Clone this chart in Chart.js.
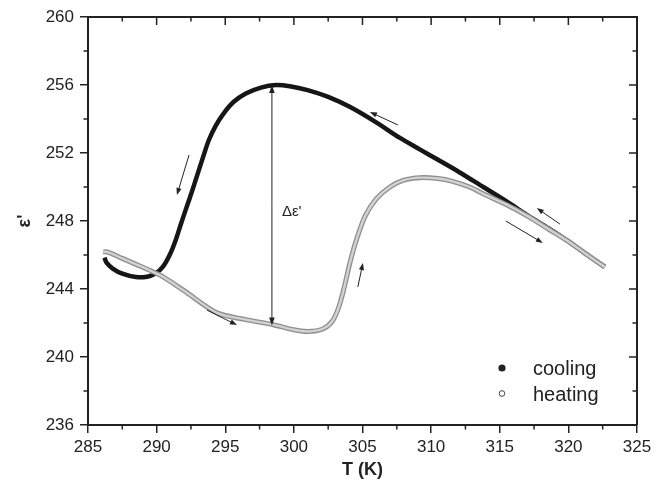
<!DOCTYPE html>
<html>
<head>
<meta charset="utf-8">
<script src="https://cdn.jsdelivr.net/npm/chart.js@4.4.0/dist/chart.umd.min.js"></script>
<style>
  html, body { margin: 0; padding: 0; background: #fff; }
  #wrap { width: 667px; height: 495px; }
</style>
</head>
<body>
<div id="wrap"><canvas id="chart" width="667" height="495"></canvas></div>
<script>
// cooling run (from high T to low T)
const coolT = [322.65, 321.3, 320.0, 318.6, 317.0, 315.5, 313.8, 312.0, 310.5, 309.2, 307.7, 306.0,
               304.1, 302.5, 301.0, 299.7, 298.7, 297.6, 296.5, 295.6, 294.9, 294.3, 293.8, 293.4,
               293.0, 292.6, 292.2, 291.8, 291.4, 290.95, 290.45, 289.9, 289.3, 288.5, 287.5, 286.8,
               286.35, 286.2];
const coolE = [245.3, 246.05, 246.8, 247.55, 248.35, 249.15, 250.0, 250.9, 251.6, 252.2, 252.9, 253.8,
               254.7, 255.3, 255.7, 255.93, 256.0, 255.85, 255.5, 255.0, 254.35, 253.6, 252.75, 251.8,
               250.8, 249.8, 248.85, 247.9, 246.9, 246.0, 245.3, 244.9, 244.72, 244.7, 244.9, 245.2,
               245.55, 245.85];

// heating run (from low T to high T)
const heatT = [286.1, 286.5, 287.5, 288.5, 289.5, 290.5, 292.0, 294.4, 296.5, 298.5, 300.0, 301.0,
               302.1, 302.8, 303.3, 303.7, 304.1, 304.6, 305.2, 306.0, 307.0, 308.0, 309.2, 310.5,
               311.5, 312.8, 313.8, 315.0, 316.0, 317.0, 318.6, 320.0, 321.3, 322.65];
const heatE = [246.2, 246.15, 245.8, 245.45, 245.1, 244.7, 243.9, 242.6, 242.2, 241.9, 241.6, 241.5,
               241.65, 242.1, 243.0, 244.2, 245.6, 247.0, 248.3, 249.3, 250.0, 250.4, 250.55, 250.5,
               250.35, 250.0, 249.6, 249.15, 248.75, 248.3, 247.5, 246.8, 246.05, 245.3];

const xMinor = [287.5, 292.5, 297.5, 302.5, 307.5, 312.5, 317.5, 322.5];
const yMinor = [238, 242, 246, 250, 254, 258];
const xMajor = [285, 290, 295, 300, 305, 310, 315, 320, 325];
const yMajor = [236, 240, 244, 248, 252, 256, 260];

// direction arrows [tailT, tailE, headT, headE]
const arrows = [
  [307.58, 253.65, 305.54, 254.41],
  [292.36, 251.88, 291.48, 249.53],
  [293.67, 242.76, 295.85, 241.88],
  [304.66, 244.12, 305.03, 245.53],
  [319.38, 247.82, 317.70, 248.76],
  [315.44, 248.00, 318.14, 246.71]
];
// Δε' marker: T, top, bottom
const deltaT = 298.4, deltaTop = 256.0, deltaBottom = 241.85;

const toPts = (xs, ys) => xs.map((x, i) => ({ x: x, y: ys[i] }));
const INK = '#222';

function drawArrow(ctx, x1, y1, x2, y2, head, half) {
  const a = Math.atan2(y2 - y1, x2 - x1);
  const c = Math.cos(a), s = Math.sin(a);
  ctx.beginPath();
  ctx.moveTo(x1, y1);
  ctx.lineTo(x2 - c * head * 0.8, y2 - s * head * 0.8);
  ctx.stroke();
  ctx.beginPath();
  ctx.moveTo(x2, y2);
  ctx.lineTo(x2 - head * c + half * s, y2 - head * s - half * c);
  ctx.lineTo(x2 - head * c - half * s, y2 - head * s + half * c);
  ctx.closePath();
  ctx.fill();
}

// frame, minor ticks, arrows and legend
const decorPlugin = {
  id: 'decor',
  afterDatasetsDraw(chart) {
    const { ctx, chartArea: a, scales: { x, y } } = chart;
    ctx.save();
    ctx.strokeStyle = INK;
    ctx.fillStyle = INK;

    // top and right axis lines
    ctx.lineWidth = 2;
    ctx.beginPath();
    ctx.moveTo(a.left, a.top); ctx.lineTo(a.right, a.top); ctx.lineTo(a.right, a.bottom);
    ctx.stroke();

    ctx.lineWidth = 1.5;
    ctx.beginPath();
    // minor ticks, outward on bottom/left, inward on top/right
    xMinor.forEach(v => {
      const px = x.getPixelForValue(v);
      ctx.moveTo(px, a.bottom); ctx.lineTo(px, a.bottom + 4.5);
      ctx.moveTo(px, a.top); ctx.lineTo(px, a.top + 4.5);
    });
    yMinor.forEach(v => {
      const py = y.getPixelForValue(v);
      ctx.moveTo(a.left, py); ctx.lineTo(a.left - 4.5, py);
      ctx.moveTo(a.right, py); ctx.lineTo(a.right - 4.5, py);
    });
    // mirrored major ticks, inward
    xMajor.forEach(v => {
      const px = x.getPixelForValue(v);
      ctx.moveTo(px, a.top); ctx.lineTo(px, a.top + 8);
    });
    yMajor.forEach(v => {
      const py = y.getPixelForValue(v);
      ctx.moveTo(a.right, py); ctx.lineTo(a.right - 8, py);
    });
    ctx.stroke();

    // direction arrows
    ctx.lineWidth = 1;
    arrows.forEach(r => {
      drawArrow(ctx, x.getPixelForValue(r[0]), y.getPixelForValue(r[1]),
                x.getPixelForValue(r[2]), y.getPixelForValue(r[3]), 7, 2.6);
    });

    // Δε' double arrow
    const dx = x.getPixelForValue(deltaT);
    const dTop = y.getPixelForValue(deltaTop), dBot = y.getPixelForValue(deltaBottom);
    const mid = (dTop + dBot) / 2;
    drawArrow(ctx, dx, mid, dx, dTop, 8, 2.8);
    drawArrow(ctx, dx, mid, dx, dBot, 8, 2.8);
    ctx.font = '15px "Liberation Sans", Arial, sans-serif';
    ctx.textAlign = 'left';
    ctx.textBaseline = 'alphabetic';
    ctx.fillText('\u0394\u03b5\'', dx + 10, mid + 11);

    // legend
    ctx.font = '20px "Liberation Sans", Arial, sans-serif';
    ctx.fillStyle = INK;
    ctx.beginPath();
    ctx.arc(502, 368, 3.6, 0, Math.PI * 2);
    ctx.fill();
    ctx.fillText('cooling', 533, 375);
    ctx.beginPath();
    ctx.lineWidth = 1;
    ctx.strokeStyle = '#444';
    ctx.arc(502, 393.5, 2.8, 0, Math.PI * 2);
    ctx.stroke();
    ctx.fillText('heating', 533, 401);
    ctx.restore();
  }
};

new Chart(document.getElementById('chart'), {
  type: 'scatter',
  data: {
    datasets: [
      {
        label: 'heating',
        data: toPts(heatT, heatE),
        showLine: true,
        borderColor: '#d2d2d2',
        borderWidth: 2.4,
        pointRadius: 0,
        tension: 0.3,
        order: 0
      },
      {
        label: 'heating edge',
        data: toPts(heatT, heatE),
        showLine: true,
        borderColor: '#8e8e8e',
        borderWidth: 5,
        pointRadius: 0,
        tension: 0.3,
        order: 1
      },
      {
        label: 'cooling',
        data: toPts(coolT, coolE),
        showLine: true,
        borderColor: '#161616',
        borderWidth: 4.5,
        pointRadius: 0,
        tension: 0.3,
        order: 2
      }
    ]
  },
  options: {
    responsive: false,
    animation: false,
    devicePixelRatio: 1,
    layout: { padding: { left: 0, right: 30, top: 17, bottom: 0 } },
    plugins: {
      legend: { display: false },
      tooltip: { enabled: false }
    },
    scales: {
      x: {
        type: 'linear',
        min: 285,
        max: 325,
        afterFit: s => { s.height = 70; },
        ticks: {
          stepSize: 5,
          padding: 4,
          color: INK,
          font: { family: '"Liberation Sans", Arial, sans-serif', size: 17 }
        },
        grid: { drawOnChartArea: false, tickLength: 8, color: INK, lineWidth: 1.5 },
        border: { color: INK, width: 2 },
        title: {
          display: true,
          text: 'T (K)',
          color: INK,
          padding: { top: 0, bottom: 14 },
          font: { family: '"Liberation Sans", Arial, sans-serif', size: 18, weight: 'bold' }
        }
      },
      y: {
        type: 'linear',
        min: 236,
        max: 260,
        afterFit: s => { s.width = 88; },
        ticks: {
          stepSize: 4,
          padding: 6,
          color: INK,
          font: { family: '"Liberation Sans", Arial, sans-serif', size: 17 }
        },
        grid: { drawOnChartArea: false, tickLength: 8, color: INK, lineWidth: 1.5 },
        border: { color: INK, width: 2 },
        title: {
          display: true,
          text: '\u03b5\'',
          color: INK,
          padding: { top: 14, bottom: 0 },
          font: { family: '"Liberation Sans", Arial, sans-serif', size: 18, weight: 'bold' }
        }
      }
    }
  },
  plugins: [decorPlugin]
});
</script>
</body>
</html>
